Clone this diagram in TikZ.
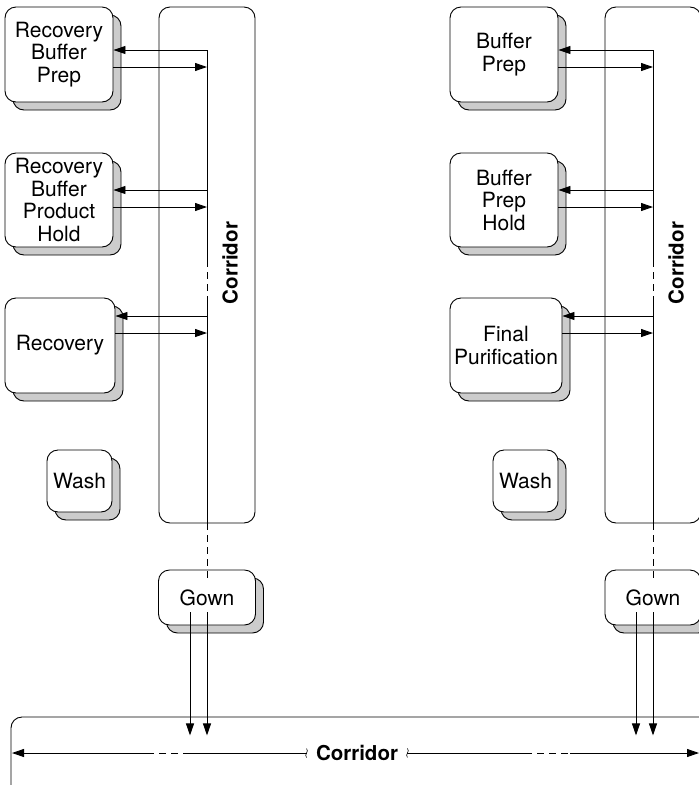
\documentclass[tikz,border=0pt]{standalone}
\usepackage{fontspec}
\setmainfont{TeX Gyre Heros}
\usetikzlibrary{arrows.meta, shadows}

\begin{document}
\begin{tikzpicture}[x=1pt, y=-1pt, line width=0.9pt,
  every node/.style={font=\fontsize{21}{22.5}\selectfont},
  room/.style={draw, rounded corners=11pt, fill=white, align=center, inner sep=0pt,
    general shadow={shadow xshift=8pt, shadow yshift=-8pt, fill=black!20, draw}},
  hall/.style={draw, rounded corners=11pt, inner sep=0pt},
  hallname/.style={font=\bfseries\fontsize{20.5}{22.5}\selectfont, inner sep=0pt},
  flow/.style={-{Triangle[length=12pt, width=8pt]}},
  gap/.style={dash pattern=on 7pt off 5pt}]
  \useasboundingbox (0,0) rectangle (699,785);
  \clip (0,0) rectangle (699,785);

  % corridors
  \node[hall, minimum width=96pt, minimum height=516pt] (corrL) at (207,265) {};
  \node[hall, minimum width=96pt, minimum height=516pt] (corrR) at (653,265) {};
  \node[hall, minimum width=701pt, minimum height=83pt] (corrB) at (361.5,758.5) {};
  \node[hallname, rotate=90] (corrLname) at (230,263) {Corridor};
  \node[hallname, rotate=90] (corrRname) at (676,263) {Corridor};
  \node[hallname, inner xsep=9pt] (corrBname) at (357,753) {Corridor};

  % rooms, left
  \node[room, minimum width=108pt, minimum height=95pt] (rbp) at (59,54.5) {Recovery\\Buffer\\Prep};
  \node[room, minimum width=108pt, minimum height=94pt] (rbph) at (59,200) {Recovery\\Buffer\\Product\\Hold};
  \node[room, minimum width=110pt, minimum height=95pt] (rec) at (60,345.5) {Recovery};
  \node[room, minimum width=65pt, minimum height=62pt] (washL) at (79.5,481) {Wash};
  \node[room, minimum width=97pt, minimum height=55pt] (gownL) at (207,597.5) {Gown};

  % rooms, right
  \node[room, minimum width=108pt, minimum height=95pt] (bp) at (504,54.5) {Buffer\\Prep};
  \node[room, minimum width=108pt, minimum height=94pt] (bph) at (504,200) {Buffer\\Prep\\Hold};
  \node[room, minimum width=112pt, minimum height=95pt] (fp) at (506,345.5) {Final\\Purification};
  \node[room, minimum width=65pt, minimum height=62pt] (washR) at (525.5,481) {Wash};
  \node[room, minimum width=96pt, minimum height=55pt] (gownR) at (653,597.5) {Gown};

  % spines in the corridors
  \foreach \s/\x in {L/207, R/653} {
    \coordinate (top\s) at (\x,50);
    \coordinate (gapA\s) at (\x,260);
    \coordinate (gapB\s) at (\x,303);
    \coordinate (end\s) at (\x,523);
    \coordinate (foot\s) at (\x,582);
    \draw (top\s) -- (gapA\s);
    \draw[gap] (gapA\s) -- (gapB\s);
    \draw (gapB\s) -- (end\s);
    \draw[gap] (end\s) -- (foot\s);
  }

  % room doors
  \foreach \r/\s/\y in {rbp/L/50, rbph/L/190, rec/L/316, bp/R/50, bph/R/190, fp/R/316} {
    \draw[flow] (top\s |- 0,\y) -- (\r.east |- 0,\y);
    \draw[flow] (\r.east |- 0,\y+17) -- (top\s |- 0,\y+17);
  }

  % gown to main corridor
  \foreach \g in {gownL, gownR} {
    \draw[flow] ([xshift=-17pt, yshift=13pt]\g.south) -- ++(0,123);
    \draw[flow] ([yshift=13pt]\g.south) -- ++(0,123);
  }

  % main corridor run
  \coordinate (runA) at (12,753);
  \coordinate (runB) at (147,753);
  \coordinate (runC) at (190,753);
  \coordinate (runD) at (525,753);
  \coordinate (runE) at (570,753);
  \coordinate (runF) at (699,753);
  \draw (corrBname.west) -- (runC);
  \draw[gap] (runC) -- (runB);
  \draw[flow] (runB) -- (runA);
  \draw (corrBname.east) -- (runD);
  \draw[gap] (runD) -- (runE);
  \draw[flow] (runE) -- (runF);
  % break marks
  \foreach \a in {west, east}
    \draw[line width=0.6pt] ([yshift=4.5pt]corrBname.\a)
      .. controls ([xshift=3pt, yshift=1.5pt]corrBname.\a) and ([xshift=-3pt, yshift=-1.5pt]corrBname.\a)
      .. ([yshift=-4.5pt]corrBname.\a);
\end{tikzpicture}
\end{document}
